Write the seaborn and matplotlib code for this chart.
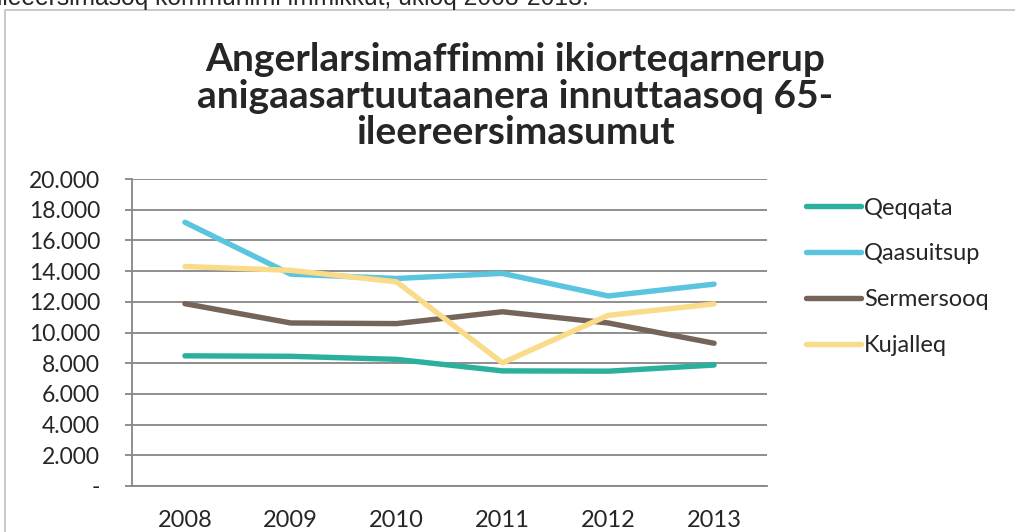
import matplotlib
matplotlib.use("Agg")
import matplotlib.pyplot as plt
import seaborn as sns
import pandas as pd
from matplotlib.patches import Rectangle
from matplotlib.ticker import FixedLocator, FuncFormatter

# data
years = ["2008", "2009", "2010", "2011", "2012", "2013"]
qeqqata = [8480, 8450, 8250, 7500, 7480, 7880]
qaasuitsup = [17180, 13800, 13520, 13850, 12380, 13150]
sermersooq = [11880, 10620, 10580, 11350, 10620, 9300]
kujalleq = [14300, 14050, 13300, 8020, 11120, 11860]
names = ["Qeqqata", "Qaasuitsup", "Sermersooq", "Kujalleq"]
colors = ["#2bb09e", "#5bc5e0", "#75645a", "#fadb8a"]

rows = []
for name, vals in zip(names, [qeqqata, qaasuitsup, sermersooq, kujalleq]):
    for i, v in enumerate(vals):
        rows.append({"pos": i, "year": years[i], "kommune": name, "value": v})
df = pd.DataFrame(rows)

sns.set_style("white")
plt.rcParams["font.family"] = ["Lato", "DejaVu Sans"]

fig = plt.figure(figsize=(10.15, 5.32), dpi=100)
ax = fig.add_axes([132 / 1015, 1 - 486 / 532, 635 / 1015, 307 / 532])

sns.lineplot(data=df, x="pos", y="value", hue="kommune", hue_order=names,
             palette=colors, linewidth=3.9, ax=ax, solid_capstyle="round")

ax.set_xlim(-0.5, 5.5)
ax.set_ylim(0, 20000)
ax.set_xticks(range(6))
ax.set_xticklabels(years)
# tick marks between the categories, like a category axis
ax.xaxis.set_minor_locator(FixedLocator([i - 0.5 for i in range(7)]))
ax.tick_params(axis="x", which="major", length=0, pad=17, labelsize=17)
ax.tick_params(axis="x", which="minor", length=6, width=1.3, color="#868686")
ax.set_yticks(range(0, 20001, 2000))
ax.yaxis.set_major_formatter(FuncFormatter(
    lambda v, p: "-" if v == 0 else f"{int(v):,}".replace(",", ".")))
ax.tick_params(axis="y", which="major", left=True, length=5, width=1.3,
               color="#868686", pad=18, labelsize=16.5)
ax.grid(axis="y", color="#868686", linewidth=1.3)
ax.set_axisbelow(True)
for s in ["top", "right"]:
    ax.spines[s].set_visible(False)
for s in ["left", "bottom"]:
    ax.spines[s].set_color("#868686")
    ax.spines[s].set_linewidth(1.3)
ax.set_xlabel("")
ax.set_ylabel("")

leg = ax.legend(loc="upper left", bbox_to_anchor=(1.047, 0.97), frameon=False,
                fontsize=17, handlelength=2.3, handletextpad=0.15,
                labelspacing=1.05, borderaxespad=0)
for h in leg.get_lines():
    h.set_linewidth(3.9)

fig.text(0.508, 1 - 96 / 532, "Angerlarsimaffimmi ikiorteqarnerup\n"
         "anigaasartuutaanera innuttaasoq 65-\nileereersimasumut",
         ha="center", va="center", fontsize=28, fontweight="bold",
         linespacing=1.04)

# cut-off caption line above the chart frame
fig.text(-0.003, 1 - 5 / 532, "ileeersimasoq kommunimi immikkut, ukioq 2008-2013.",
         ha="left", va="baseline", fontsize=17.7, family="Liberation Sans")

fig.patches.append(Rectangle((5 / 1015, -0.05), 1.1, 1 - 10 / 532 + 0.05,
                             transform=fig.transFigure, fill=False,
                             edgecolor="#c0c0c0", linewidth=1.2))

fig.savefig("out.png", dpi=100)
